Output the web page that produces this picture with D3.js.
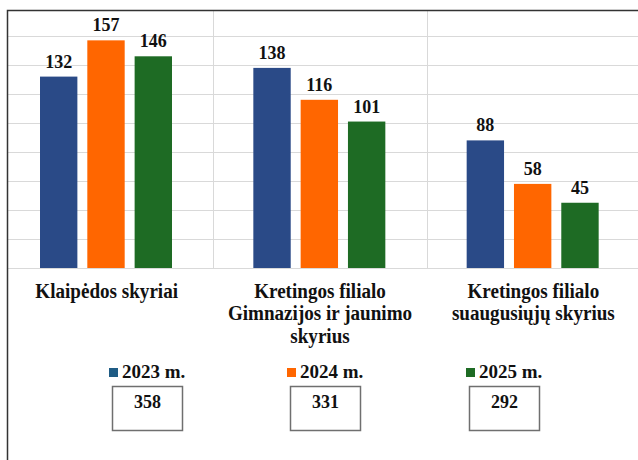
<!DOCTYPE html>
<html>
<head>
<meta charset="utf-8">
<title>Skyriai</title>
<style>
  body { margin: 0; background: #fff; }
</style>
</head>
<body>
<div class="plot_container"></div>
<script src="https://cdn.jsdelivr.net/npm/d3@7"></script>
<script>
var categories = [
  ["Klaipėdos skyriai"],
  ["Kretingos filialo", "Gimnazijos ir jaunimo", "skyrius"],
  ["Kretingos filialo", "suaugusiųjų skyrius"]
];
var years = ["2023 m.", "2024 m.", "2025 m."];
var values2023 = [132, 138, 88];
var values2024 = [157, 116, 58];
var values2025 = [146, 101, 45];
var totals = [358, 331, 292];

var barColors = ["#2a4a87", "#ff6600", "#1e6b24"];
var legendColors = ["#1f5c85", "#ff6600", "#1e6b24"];

var width = 638, height = 460;
var frameX = 7, frameY = 10;
var base = 268;
var serif = "'Liberation Serif', Tinos, 'Times New Roman', serif";

var svg = d3.select(".plot_container").append("svg")
    .attr("width", width)
    .attr("height", height)
    .attr("font-family", serif)
    .attr("font-weight", "bold")
    .attr("fill", "#111");

var series = [values2023, values2024, values2025];

var x = d3.scaleBand()
    .domain(d3.range(categories.length))
    .range([0, 640]);

var xs = d3.scaleBand()
    .domain(d3.range(years.length))
    .range([40, 172])
    .paddingInner(0.21);

var y = d3.scaleLinear()
    .domain([0, 180])
    .range([base, base - 180 * 1.45]);

// horizontal grid
svg.selectAll(".hgrid")
    .data(y.ticks(9).filter(function(d){ return y(d) > frameY + 1; }))
    .enter()
    .append("line")
    .attr("x1", frameX)
    .attr("x2", width)
    .attr("y1", function(d){ return Math.round(y(d)) + 0.5; })
    .attr("y2", function(d){ return Math.round(y(d)) + 0.5; })
    .style("stroke", "#d9d9d9")
    .style("stroke-width", 1);

// vertical grid between categories
svg.selectAll(".vgrid")
    .data(d3.range(1, categories.length))
    .enter()
    .append("line")
    .attr("x1", function(d){ return Math.round(x(d)) + 0.5; })
    .attr("x2", function(d){ return Math.round(x(d)) + 0.5; })
    .attr("y1", frameY)
    .attr("y2", base)
    .style("stroke", "#d9d9d9")
    .style("stroke-width", 1);

// bars
var groups = svg.selectAll(".group")
    .data(categories)
    .enter()
    .append("g")
    .attr("class", "group")
    .attr("transform", function(d, i){ return "translate(" + x(i) + ",0)"; });

groups.each(function(c, ci){
    var g = d3.select(this);
    series.forEach(function(s, si){
        g.append("rect")
            .attr("x", xs(si))
            .attr("width", xs.bandwidth())
            .attr("y", y(s[ci]))
            .attr("height", base - y(s[ci]))
            .style("fill", barColors[si]);
        g.append("text")
            .attr("x", xs(si) + xs.bandwidth() / 2)
            .attr("y", y(s[ci]) - 9)
            .attr("text-anchor", "middle")
            .attr("font-size", 18)
            .text(s[ci]);
    });
});

// category labels (slightly condensed, like the original)
svg.selectAll(".cat")
    .data(categories)
    .enter()
    .append("g")
    .attr("class", "cat")
    .attr("transform", function(d, i){ return "translate(" + (x(i) + x.bandwidth() / 2) + ",0) scale(0.955,1)"; })
    .append("text")
    .attr("text-anchor", "middle")
    .attr("font-size", 20)
    .each(function(lines){
        var t = d3.select(this);
        lines.forEach(function(line, li){
            t.append("tspan")
                .attr("x", 0)
                .attr("y", 298 + li * 22.5)
                .text(line);
        });
    });

// legend with totals
var legendX = [109, 287, 466];
var leg = svg.selectAll(".leg")
    .data(years)
    .enter()
    .append("g")
    .attr("transform", function(d, i){ return "translate(" + legendX[i] + ",0)"; });

leg.append("rect")
    .attr("x", 0).attr("y", 368)
    .attr("width", 9).attr("height", 9)
    .style("fill", function(d, i){ return legendColors[i]; });

leg.append("text")
    .attr("x", 13).attr("y", 378)
    .attr("font-size", 19)
    .text(function(d){ return d; });

leg.append("rect")
    .attr("x", 3.5).attr("y", 386.5)
    .attr("width", 70).attr("height", 44)
    .style("fill", "none")
    .style("stroke", "#6f6f6f")
    .style("stroke-width", 1.5);

leg.append("text")
    .attr("x", 38.5).attr("y", 408)
    .attr("text-anchor", "middle")
    .attr("font-size", 18)
    .text(function(d, i){ return totals[i]; });

// frame
svg.append("path")
    .attr("d", "M" + (frameX + 0.5) + "," + height + "V" + (frameY + 0.5) + "H" + width)
    .style("fill", "none")
    .style("stroke", "#333")
    .style("stroke-width", 1.5);
</script>
</body>
</html>
